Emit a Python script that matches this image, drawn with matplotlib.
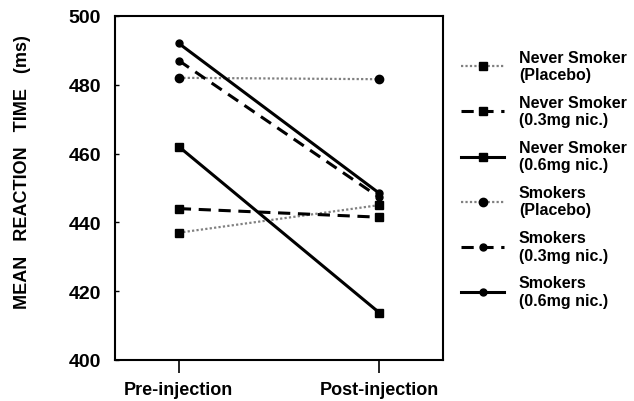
import matplotlib
matplotlib.use("Agg")
from matplotlib import pyplot as plt

plt.rcParams['font.family'] = ['Liberation Sans', 'DejaVu Sans']
plt.rcParams['font.weight'] = 'bold'

phases = ['Pre-injection', 'Post-injection']
labels = ['Never Smoker\n(Placebo)', 'Never Smoker\n(0.3mg nic.)', 'Never Smoker\n(0.6mg nic.)',
          'Smokers\n(Placebo)', 'Smokers\n(0.3mg nic.)', 'Smokers\n(0.6mg nic.)']
never_placebo = [437, 445]
never_03 = [444, 441.5]
never_06 = [462, 413.8]
smk_placebo = [482, 481.6]
smk_03 = [487, 447.3]
smk_06 = [492, 448.5]
yticks = [400, 420, 440, 460, 480, 500]

series = [never_placebo, never_03, never_06, smk_placebo, smk_03, smk_06]
dotted = (0, (1, 1))
styles = [
    dict(ls=dotted, color='0.5', lw=1.6, marker='s', ms=6),
    dict(ls=(0, (4, 2.5)), color='black', lw=2.2, marker='s', ms=6),
    dict(ls='-', color='black', lw=2.2, marker='s', ms=6),
    dict(ls=dotted, color='0.5', lw=1.6, marker='o', ms=6),
    dict(ls=(0, (4, 2.5)), color='black', lw=2.2, marker='o', ms=5),
    dict(ls='-', color='black', lw=2.2, marker='o', ms=5),
]

fig = plt.figure(figsize=(6.34, 4.02), dpi=100)
ax = fig.add_axes([0.181, 0.102, 0.518, 0.856])

x = [0, 1]
for vals, lab, st in zip(series, labels, styles):
    ax.plot(x, vals, label=lab, mfc='black', mec='black', **st)

ax.set_xlim(-0.32, 1.32)
ax.set_ylim(400, 500)
ax.set_yticks(yticks)
ax.set_yticklabels([str(v) for v in yticks], fontsize=14, fontweight='bold')
ax.set_xticks(x)
ax.set_xticklabels(phases, fontsize=13, fontweight='bold')
ax.tick_params(axis='y', direction='in', length=3, width=1, pad=10)
ax.tick_params(axis='x', direction='out', length=9, width=1.2, pad=6)
for sp in ax.spines.values():
    sp.set_linewidth(1.5)

ax.set_ylabel('MEAN   REACTION   TIME   (ms)', fontsize=13, fontweight='bold')
ax.yaxis.set_label_coords(-0.255, 0.55)

leg = ax.legend(loc='upper left', bbox_to_anchor=(0.705, 0.91), bbox_transform=fig.transFigure,
                frameon=False, handlelength=2.7, handletextpad=0.9,
                labelspacing=0.8, prop={'weight': 'bold', 'size': 11.5})

fig.savefig('out.png', dpi=100)
